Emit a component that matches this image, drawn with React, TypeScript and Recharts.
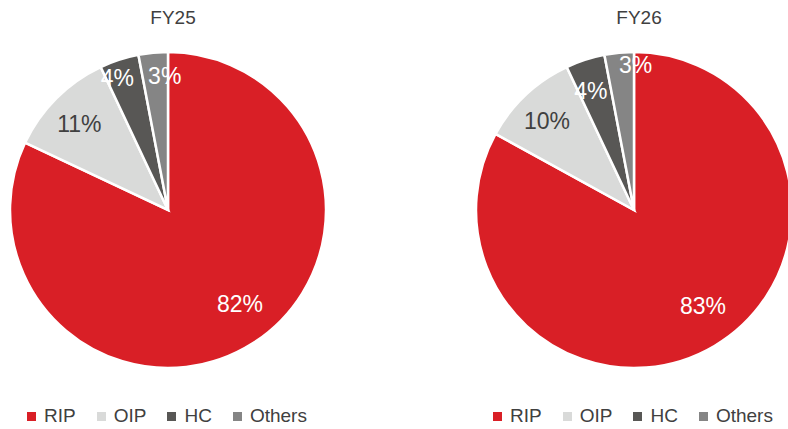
import React from 'react';
import { PieChart, Pie, Cell } from 'recharts';

const categories = ['RIP', 'OIP', 'HC', 'Others'];
const fy25Values = [82, 11, 4, 3];
const fy26Values = [83, 10, 4, 3];
const chartTitles = ['FY25', 'FY26'];

const COLORS = ['#D91F26', '#D9DAD9', '#585755', '#858585'];
const LABEL_COLORS = ['#FFFFFF', '#404040', '#FFFFFF', '#FFFFFF'];
const FONT = '"Liberation Sans", Arial, sans-serif';
const RADIAN = Math.PI / 180;

const makeData = (vals: number[]) => categories.map((name, i) => ({ name, value: vals[i] }));

const makeLabel = (factors: number[], shifts: number[]) => (props: any) => {
  const { cx, cy, midAngle, outerRadius, index, value } = props;
  const r = outerRadius * factors[index];
  const a = midAngle + shifts[index];
  const x = cx + r * Math.cos(-a * RADIAN);
  const y = cy + r * Math.sin(-a * RADIAN);
  return (
    <text x={x} y={y} fill={LABEL_COLORS[index]} textAnchor="middle" dominantBaseline="central"
      fontSize={23} fontFamily={FONT}>
      {`${value}%`}
    </text>
  );
};

const LegendRow = ({ left }: { left: number }) => (
  <div style={{ position: 'absolute', left, top: 405, display: 'flex', alignItems: 'center', fontFamily: FONT, fontSize: 19, color: '#404040', whiteSpace: 'nowrap' }}>
    {categories.map((c, i) => (
      <div key={c} style={{ display: 'flex', alignItems: 'center', marginRight: 21 }}>
        <span style={{ display: 'inline-block', width: 9, height: 9, background: COLORS[i], marginRight: 8 }} />
        <span>{c}</span>
      </div>
    ))}
  </div>
);

const OnePie = ({ data, left, cx, factors, shifts, title }: any) => (
  <div style={{ position: 'absolute', left, top: 0, width: 394, height: 429 }}>
    <div style={{ position: 'absolute', left: cx - 55, width: 120, top: 7, textAlign: 'center', fontFamily: FONT, fontSize: 19, color: '#404040' }}>{title}</div>
    <PieChart width={394} height={429} margin={{ top: 0, right: 0, bottom: 0, left: 0 }}>
      <Pie data={data} dataKey="value" nameKey="name" cx={cx} cy={210} outerRadius={158}
        startAngle={90} endAngle={-270} stroke="#FFFFFF" strokeWidth={2.5}
        isAnimationActive={false} labelLine={false} label={makeLabel(factors, shifts)}>
        {data.map((_: any, i: number) => <Cell key={i} fill={COLORS[i]} />)}
      </Pie>
    </PieChart>
  </div>
);

export default function App() {
  return (
    <div style={{ position: 'absolute', left: 0, top: 0, width: 788, height: 429, background: '#fff', overflow: 'hidden' }}>
      <OnePie data={makeData(fy25Values)} left={0} cx={168} factors={[0.75, 0.78, 0.895, 0.85]} shifts={[5, 1, 3, -4]} title={chartTitles[0]} />
      <OnePie data={makeData(fy26Values)} left={394} cx={240} factors={[0.75, 0.79, 0.80, 0.92]} shifts={[5, 1, 2, -6]} title={chartTitles[1]} />
      <LegendRow left={27} />
      <LegendRow left={493} />
    </div>
  );
}
